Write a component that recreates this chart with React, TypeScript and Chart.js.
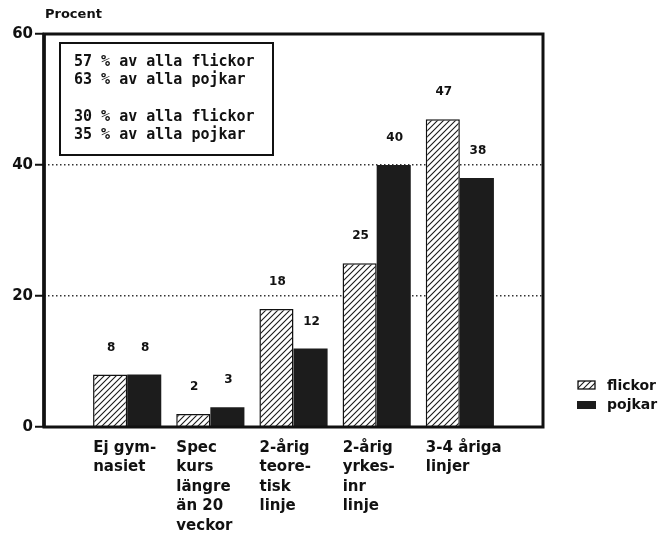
import React, { useEffect, useRef } from "react";
import { Chart, registerables } from "chart.js";

Chart.register(...registerables);

const categories: string[][] = [
  ["Ej gym-", "nasiet"],
  ["Spec", "kurs", "längre", "än 20", "veckor"],
  ["2-årig", "teore-", "tisk", "linje"],
  ["2-årig", "yrkes-", "inr", "linje"],
  ["3-4 åriga", "linjer"],
];
const flickor = [8, 2, 18, 25, 47];
const pojkar = [8, 3, 12, 40, 38];
const seriesNames = ["flickor", "pojkar"];
const yTicks = [0, 20, 40, 60];
const yTitle = "Procent";
const noteLines = [
  "57 % av alla flickor",
  "63 % av alla pojkar",
  "",
  "30 % av alla flickor",
  "35 % av alla pojkar",
];

const SANS = "'DejaVu Sans', sans-serif";
const MONO = "'DejaVu Sans Mono', monospace";

export default function App() {
  const ref = useRef<HTMLCanvasElement>(null);

  useEffect(() => {
    const canvas = ref.current!;
    const ctx0 = canvas.getContext("2d")!;
    const tile = document.createElement("canvas");
    const s = 6;
    tile.width = s;
    tile.height = s;
    const g = tile.getContext("2d")!;
    g.fillStyle = "#fff";
    g.fillRect(0, 0, s, s);
    g.strokeStyle = "#1a1a1a";
    g.lineWidth = 1.1;
    g.beginPath();
    g.moveTo(-1, s + 1);
    g.lineTo(s + 1, -1);
    g.moveTo(-1, 1);
    g.lineTo(1, -1);
    g.moveTo(s - 1, s + 1);
    g.lineTo(s + 1, s - 1);
    g.stroke();
    const hatch = ctx0.createPattern(tile, "repeat")!;

    // pad one empty slot on each side of the categories
    const labels: (string | string[])[] = ["", ...categories, ""];
    const pad = (a: number[]) => [null, ...a, null];

    const decor = {
      id: "decor",
      afterDatasetsDraw(chart: any) {
        const c = chart.ctx;
        c.save();
        c.font = `bold 12px ${SANS}`;
        c.fillStyle = "#111";
        c.textAlign = "center";
        c.textBaseline = "middle";
        chart.data.datasets.forEach((ds: any, di: number) => {
          const meta = chart.getDatasetMeta(di);
          meta.data.forEach((el: any, i: number) => {
            const v = ds.data[i];
            if (v === null || v === undefined) return;
            c.fillText(String(v), el.x + 1, el.y - 27);
          });
        });
        c.restore();
      },
      afterDraw(chart: any) {
        const c = chart.ctx;
        const a = chart.chartArea;
        c.save();
        // frame
        c.strokeStyle = "#111";
        c.lineWidth = 3;
        c.strokeRect(a.left, a.top, a.right - a.left, a.bottom - a.top);
        c.lineWidth = 3.5;
        c.beginPath();
        c.moveTo(a.left, a.top);
        c.lineTo(a.left, a.bottom);
        c.stroke();
        // y title
        c.fillStyle = "#111";
        c.font = `bold 13px ${SANS}`;
        c.textAlign = "left";
        c.textBaseline = "middle";
        c.fillText(yTitle, a.left + 1, a.top - 19);
        // note box
        const bx = a.left + 16;
        const by = a.top + 9;
        c.lineWidth = 2;
        c.strokeRect(bx, by, 213, 112);
        c.font = `bold 15px ${MONO}`;
        noteLines.forEach((t, i) => {
          if (t) c.fillText(t, bx + 14, by + 19 + i * 18.4);
        });
        // legend
        const lx = a.right + 35;
        const ly = a.bottom - 46;
        c.lineWidth = 1.3;
        c.fillStyle = hatch;
        c.fillRect(lx, ly, 17, 8);
        c.strokeStyle = "#111";
        c.strokeRect(lx, ly, 17, 8);
        c.fillStyle = "#1c1c1c";
        c.fillRect(lx - 1, ly + 20, 19, 8);
        c.fillStyle = "#111";
        c.font = `bold 14px ${SANS}`;
        c.textBaseline = "alphabetic";
        c.fillText(seriesNames[0], lx + 29, ly + 9);
        c.fillText(seriesNames[1], lx + 29, ly + 28);
        c.restore();
      },
    };

    const chart = new Chart(canvas, {
      type: "bar",
      data: {
        labels,
        datasets: [
          {
            label: seriesNames[0],
            data: pad(flickor) as any,
            backgroundColor: hatch as any,
            borderColor: "#111",
            borderWidth: 1.5,
          },
          {
            label: seriesNames[1],
            data: pad(pojkar) as any,
            backgroundColor: "#1c1c1c",
            borderWidth: 0,
          },
        ],
      },
      options: {
        responsive: false,
        animation: false,
        layout: { padding: { left: 0, top: 34, right: 127, bottom: 0 } },
        datasets: { bar: { categoryPercentage: 0.82, barPercentage: 1 } },
        plugins: { legend: { display: false }, tooltip: { enabled: false } },
        scales: {
          x: {
            offset: false,
            grid: { display: false },
            border: { display: false },
            ticks: {
              autoSkip: false,
              maxRotation: 0,
              minRotation: 0,
              align: "start",
              labelOffset: -34,
              padding: 3,
              color: "#111",
              font: { family: SANS, weight: "bold", size: 15, lineHeight: 1.3 },
            },
            afterFit(scale: any) {
              scale.height = 106;
            },
          },
          y: {
            min: 0,
            max: 60,
            border: { display: false, dash: [1.5, 2.5] },
            grid: {
              color: (ctx: any) =>
                ctx.tick && (ctx.tick.value === 20 || ctx.tick.value === 40)
                  ? "#333"
                  : "rgba(0,0,0,0)",
              lineWidth: 1.5,
              tickColor: "#111",
              tickLength: 9,
              tickWidth: 2,
              tickBorderDash: [],
            },
            ticks: {
              padding: 2,
              color: "#111",
              font: { family: SANS, weight: "bold", size: 15 },
            },
            afterBuildTicks(scale: any) {
              scale.ticks = yTicks.map((v) => ({ value: v }));
            },
            afterFit(scale: any) {
              scale.width = 44;
            },
          },
        },
      },
      plugins: [decor],
    } as any);

    return () => chart.destroy();
  }, []);

  return (
    <div style={{ position: "fixed", left: 0, top: 0, width: 670, height: 533, background: "#fff" }}>
      <canvas ref={ref} width={670} height={533} style={{ width: 670, height: 533, display: "block" }} />
    </div>
  );
}
